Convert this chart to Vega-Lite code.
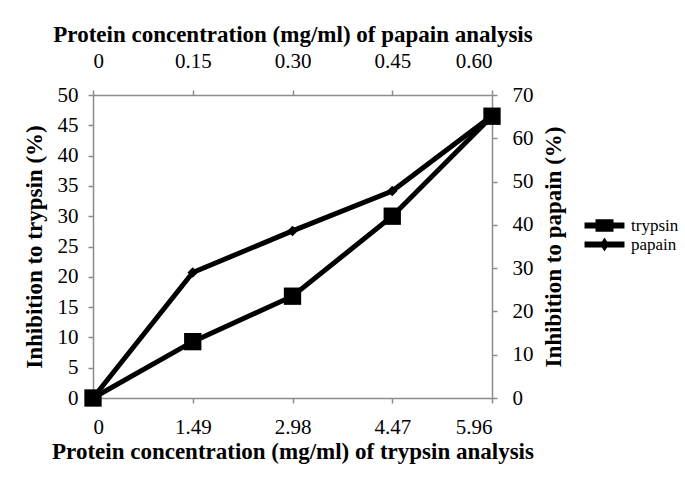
{
  "$schema": "https://vega.github.io/schema/vega-lite/v6.json",
  "width": 399,
  "height": 303,
  "autosize": {"type": "none"},
  "padding": {"left": 93, "top": 95, "right": 193, "bottom": 80},
  "background": "white",
  "config": {
    "view": {"stroke": null},
    "font": "Liberation Serif",
    "legend": {"labelFont": "Liberation Serif", "labelFontSize": 17, "labelColor": "black"},
    "axis": {
      "grid": false,
      "domainColor": "#8c8c8c",
      "domainWidth": 1.5,
      "tickColor": "#8c8c8c",
      "tickWidth": 1.5,
      "tickSize": 5,
      "labelFont": "Liberation Serif",
      "labelFontSize": 21,
      "labelColor": "black",
      "titleFont": "Liberation Serif",
      "titleFontSize": 23,
      "titleFontWeight": "bold",
      "titleColor": "black"
    }
  },
  "datasets": {
    "trypsin": [
      {"series": "trypsin", "conc": 0, "inhibition": 0},
      {"series": "trypsin", "conc": 1.49, "inhibition": 9.3},
      {"series": "trypsin", "conc": 2.98, "inhibition": 16.8},
      {"series": "trypsin", "conc": 4.47, "inhibition": 30.0},
      {"series": "trypsin", "conc": 5.96, "inhibition": 46.5}
    ],
    "papain": [
      {"series": "papain", "conc": 0, "inhibition": 0},
      {"series": "papain", "conc": 0.15, "inhibition": 29.0},
      {"series": "papain", "conc": 0.30, "inhibition": 38.6},
      {"series": "papain", "conc": 0.45, "inhibition": 47.8},
      {"series": "papain", "conc": 0.60, "inhibition": 65.2}
    ]
  },
  "layer": [
    {
      "data": {"name": "papain"},
      "mark": {"type": "line", "strokeWidth": 5, "point": {"shape": "diamond", "size": 110, "filled": true, "color": "black"}},
      "encoding": {
        "x": {"field": "conc", "type": "quantitative", "scale": {"domain": [0, 0.6], "nice": false},
          "axis": {"orient": "top", "values": [0, 0.15, 0.3, 0.45, 0.6], "labelExpr": "datum.value == 0 ? '0' : format(datum.value, '.2f')", "title": "Protein concentration (mg/ml) of papain analysis", "labelPadding": 19, "titlePadding": 4}},
        "y": {"field": "inhibition", "type": "quantitative", "scale": {"domain": [0, 70], "nice": false},
          "axis": {"orient": "right", "values": [0, 10, 20, 30, 40, 50, 60, 70], "title": "Inhibition to papain (%)", "titleAngle": 270, "titleBaseline": "top", "labelPadding": 15, "titlePadding": 9}},
        "color": {"field": "series", "type": "nominal", "scale": {"domain": ["trypsin", "papain"], "range": ["black", "black"]},
          "legend": {
            "orient": "none", "legendX": 503, "legendY": 122, "title": null,
            "symbolSize": 144,
            "symbolType": "M-3.33,-0.5H3.33V0.5H-3.33Z",
            "symbolFillColor": "black",
            "symbolStrokeWidth": 0,
            "labelFont": "Liberation Serif", "labelFontSize": 17, "labelColor": "black", "labelOffset": 18,
            "rowPadding": 1,
            "encode": {"symbols": {"update": {
              "shape": {"signal": "datum.value === 'trypsin' ? 'M-3.33,-0.5H3.33V0.5H-3.33Z M-1.5,-1.05H1.5V1.05H-1.5Z' : 'M-3.33,-0.5H3.33V0.5H-3.33Z M0,-1.15L0.75,0L0,1.15L-0.75,0Z'"},
              "fill": {"value": "black"},
              "stroke": {"value": "transparent"},
              "strokeWidth": {"value": 0},
              "size": {"value": 144}
            }}}
          }}
      }
    },
    {
      "data": {"name": "trypsin"},
      "mark": {"type": "line", "strokeWidth": 5, "point": {"shape": "square", "size": 300, "filled": true, "color": "black"}},
      "encoding": {
        "x": {"field": "conc", "type": "quantitative", "scale": {"domain": [0, 5.96], "nice": false},
          "axis": {"orient": "bottom", "values": [0, 1.49, 2.98, 4.47, 5.96], "labelExpr": "datum.value == 0 ? '0' : format(datum.value, '.2f')", "title": "Protein concentration (mg/ml) of trypsin analysis", "labelPadding": 13, "titlePadding": 3}},
        "y": {"field": "inhibition", "type": "quantitative", "scale": {"domain": [0, 50], "nice": false},
          "axis": {"orient": "left", "values": [0, 5, 10, 15, 20, 25, 30, 35, 40, 45, 50], "title": "Inhibition to trypsin (%)", "labelPadding": 10, "titlePadding": 11}},
        "color": {"field": "series", "type": "nominal", "scale": {"domain": ["trypsin", "papain"], "range": ["black", "black"]}}
      }
    }
  ],
  "resolve": {"scale": {"x": "independent", "y": "independent"}}
}
